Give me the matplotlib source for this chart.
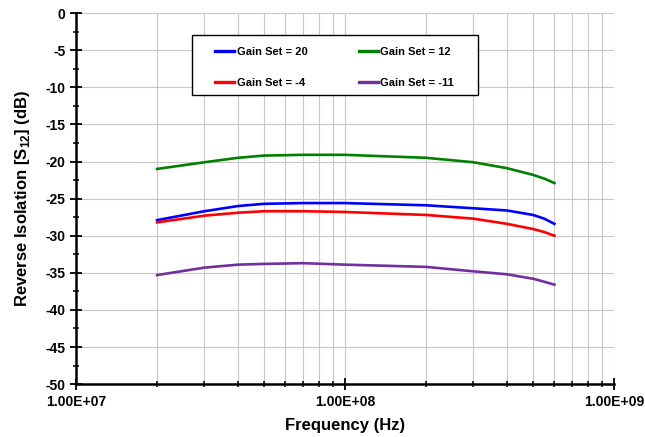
import numpy as np
import matplotlib.pyplot as plt
from matplotlib.patches import Rectangle
from matplotlib.ticker import LogLocator, MultipleLocator, FixedFormatter, FixedLocator, NullFormatter

plt.rcParams['font.family'] = ['Liberation Sans', 'DejaVu Sans']
plt.rcParams['font.weight'] = 'bold'
plt.rcParams['axes.unicode_minus'] = False
plt.rcParams['mathtext.fontset'] = 'custom'
plt.rcParams['mathtext.rm'] = 'Liberation Sans:bold'
plt.rcParams['mathtext.bf'] = 'Liberation Sans:bold'

# Frequency points (Hz)
freq = [2e7, 3e7, 4e7, 5e7, 7e7, 1e8, 2e8, 3e8, 4e8, 5e8, 5.5e8, 6e8]

# Reverse isolation S12 (dB)
gain_20 = [-27.9, -26.7, -26.0, -25.7, -25.6, -25.6, -25.9, -26.3, -26.6, -27.2, -27.7, -28.4]
gain_12 = [-21.0, -20.1, -19.5, -19.2, -19.1, -19.1, -19.5, -20.1, -20.9, -21.8, -22.3, -22.9]
gain_m4 = [-28.2, -27.3, -26.9, -26.7, -26.7, -26.8, -27.2, -27.7, -28.4, -29.1, -29.5, -30.0]
gain_m11 = [-35.3, -34.3, -33.9, -33.8, -33.7, -33.9, -34.2, -34.8, -35.2, -35.8, -36.2, -36.6]

fig = plt.figure(figsize=(6.45, 4.37), dpi=100)
ax = fig.add_axes([0.118, 0.121, 0.834, 0.849])

l1, = ax.plot(freq, gain_20, color='#0000FF', lw=1.9, label='Gain Set = 20')
l2, = ax.plot(freq, gain_12, color='#008000', lw=1.9, label='Gain Set = 12')
l3, = ax.plot(freq, gain_m4, color='#FF0000', lw=1.9, label='Gain Set = -4')
l4, = ax.plot(freq, gain_m11, color='#7030A0', lw=1.9, label='Gain Set = -11')

ax.set_xscale('log')
ax.set_xlim(1e7, 1e9)
ax.set_ylim(-50, 0)

ax.xaxis.set_major_locator(FixedLocator([1e7, 1e8, 1e9]))
ax.xaxis.set_major_formatter(FixedFormatter(['1.00E+07', '1.00E+08', '1.00E+09']))
ax.xaxis.set_minor_locator(LogLocator(base=10, subs=np.arange(2, 10)))
ax.xaxis.set_minor_formatter(NullFormatter())
ax.yaxis.set_major_locator(MultipleLocator(5))
ax.yaxis.set_minor_locator(MultipleLocator(2.5))

ax.grid(which='both', axis='x', color='#c8c8c8', lw=0.8)
ax.grid(which='major', axis='y', color='#c8c8c8', lw=0.8)
ax.set_axisbelow(True)

for s in ['top', 'right']:
    ax.spines[s].set_visible(False)
for s in ['left', 'bottom']:
    ax.spines[s].set_linewidth(1.8)

ax.tick_params(which='major', direction='inout', length=8, width=1.3, labelsize=10)
ax.tick_params(which='minor', direction='inout', length=5, width=1.1)

ax.set_xlabel('Frequency (Hz)', fontsize=12, fontweight='bold', labelpad=7)
ax.set_ylabel(r'Reverse Isolation [S$_{12}$] (dB)', fontsize=12, fontweight='bold', labelpad=10)

# legend box drawn separately so its padding can match the original
box = Rectangle((192 / 645, 1 - 95 / 437), 286 / 645, 60 / 437, transform=fig.transFigure,
                facecolor='white', edgecolor='black', lw=1.0, zorder=4, clip_on=False)
ax.add_patch(box)
leg = ax.legend([l1, l3, l2, l4], [l1.get_label(), l3.get_label(), l2.get_label(), l4.get_label()],
                ncol=2, loc='upper left', bbox_to_anchor=(215 / 645, 1 - 47 / 437),
                bbox_transform=fig.transFigure, borderaxespad=0, borderpad=0,
                prop={'weight': 'bold', 'size': 8}, frameon=False,
                handlelength=1.75, handletextpad=0.2, columnspacing=4.6, labelspacing=1.85)
leg.set_zorder(5)
for h in leg.get_lines():
    h.set_linewidth(2.4)

fig.savefig('out.png', dpi=100)
